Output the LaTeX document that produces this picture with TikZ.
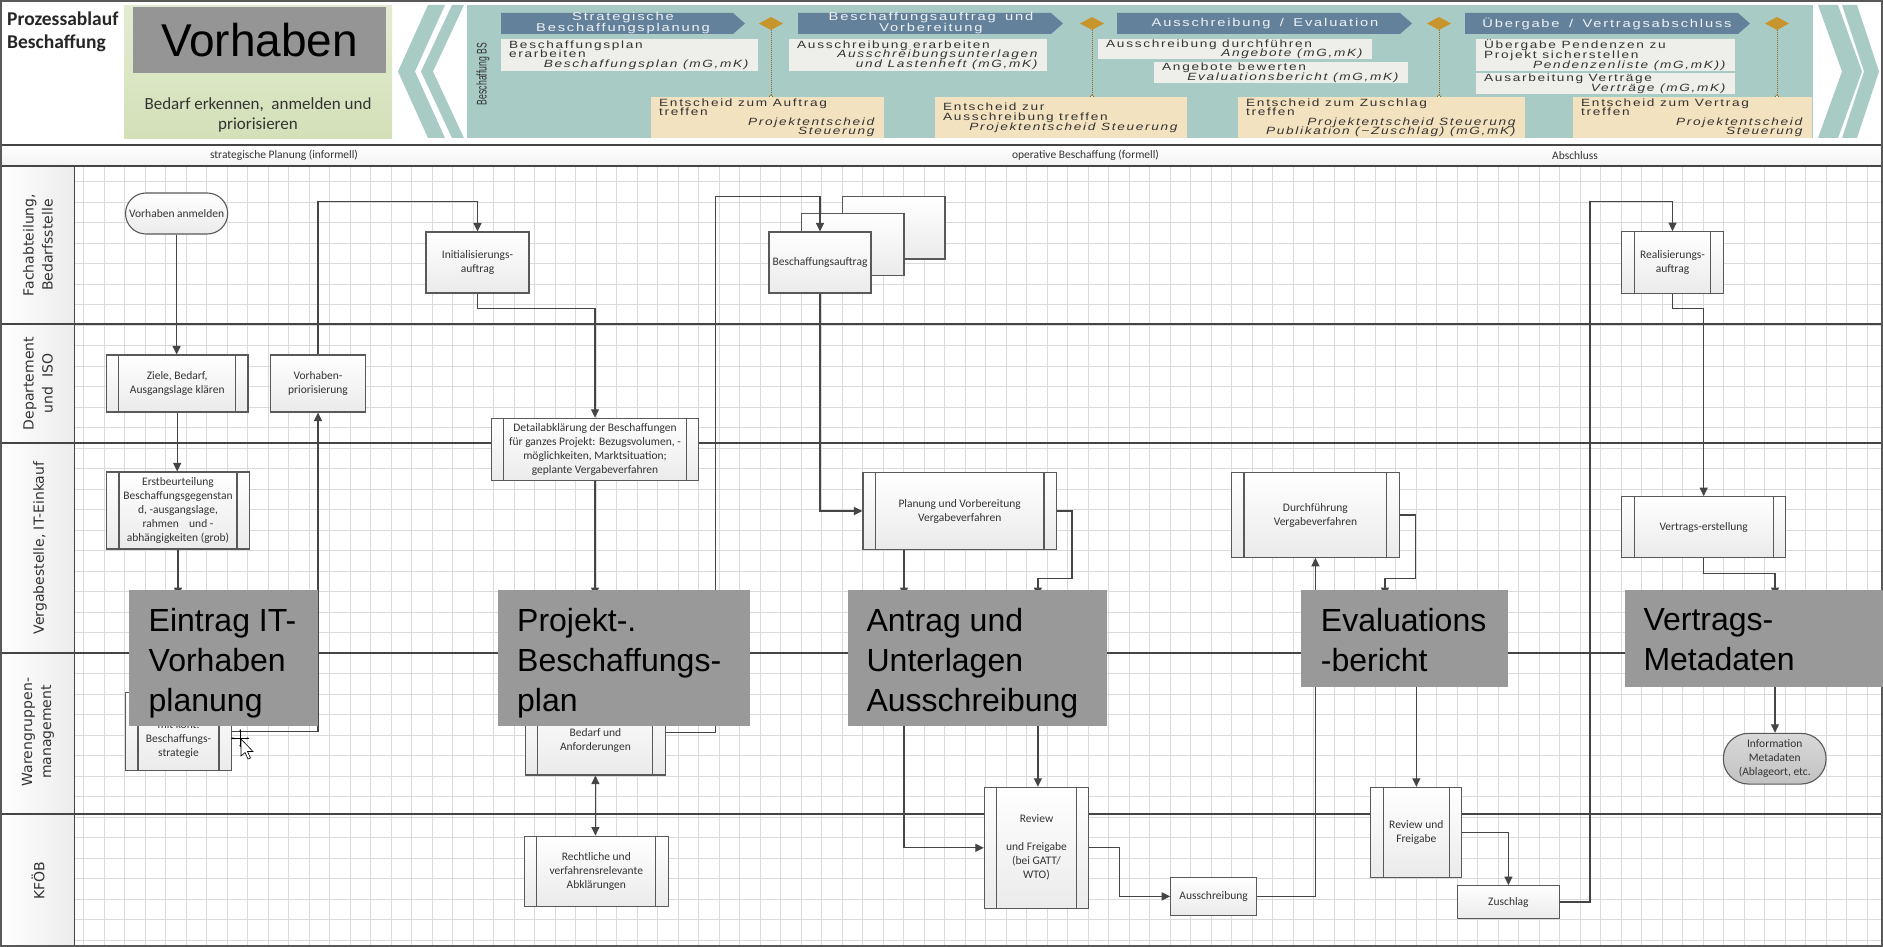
\documentclass[tikz,border=0pt]{standalone}
\usepackage{fontspec}
\setmainfont{Carlito}
\newfontfamily\hdr[FakeStretch=1.3,LetterSpace=16,WordSpace=1.6]{Liberation Sans}
\newfontfamily\arialf{Liberation Sans}
\newfontfamily\narrowf[FakeStretch=0.62]{Liberation Sans}
\newfontfamily\verd{DejaVu Sans}
\newcommand\tightls{\lineskiplimit=-20pt\relax}
\newcommand\hdrsmall{\hdr\fontsize{10.5}{9.6}\selectfont\tightls}
\newcommand\hdrph{\hdr\fontsize{11.3}{11}\selectfont\tightls}
\newcommand\widesp{\spaceskip=5.6pt plus 1pt\relax\xspaceskip=5.6pt\relax}
\usetikzlibrary{arrows.meta,calc}
\definecolor{edge}{HTML}{595959}
\definecolor{conn}{HTML}{454545}
\definecolor{txt}{HTML}{333333}
\definecolor{gridc}{HTML}{DADADA}
\definecolor{lanec}{HTML}{454545}
\definecolor{overg}{HTML}{999999}
\definecolor{vorg}{HTML}{959595}
\definecolor{greenA}{HTML}{E3ECD2}
\definecolor{greenB}{HTML}{D3E0B8}
\definecolor{tealc}{HTML}{A9CBC6}
\definecolor{phase}{HTML}{63819A}
\definecolor{phtxt}{HTML}{EEF2F6}
\definecolor{wbox}{HTML}{EEEEEA}
\definecolor{obox}{HTML}{F3E2BF}
\definecolor{dia}{HTML}{C8952C}
\begin{document}
\begin{tikzpicture}[x=1pt,y=-1pt,
  procbox/.style={draw=edge, line width=1.1pt, top color=white, bottom color=gray!16, align=center, inner sep=1pt, font=\fontsize{11.5}{14}\selectfont, text=txt},
  subbox/.style={procbox, path picture={\draw[edge,line width=1.1pt] ([xshift=12.5pt]path picture bounding box.north west) -- ([xshift=12.5pt]path picture bounding box.south west) ([xshift=-12.5pt]path picture bounding box.north east) -- ([xshift=-12.5pt]path picture bounding box.south east);}},
  btxt/.style={align=center, inner sep=0pt, font=\fontsize{11.5}{14}\selectfont, text=txt},
  arr/.style={draw=conn, line width=1.2pt, -{Triangle[length=8.5pt,width=8pt]}},
  arrb/.style={draw=conn, line width=1.2pt, {Triangle[length=8.5pt,width=8pt]}-{Triangle[length=8.5pt,width=8pt]}},
  ovl/.style={fill=overg, anchor=north west, inner sep=0pt},
  ovltxt/.style={anchor=north west, inner sep=0pt, align=left, font=\arialf\fontsize{32}{40}\selectfont, text=black},
  lanelab/.style={rotate=90, align=center, font=\verd\fontsize{14}{19}\selectfont, text=txt},
  hbx/.style={anchor=north west, inner xsep=8pt, inner ysep=0pt, align=left, font=\hdrsmall, text=txt, execute at begin node=\widesp},
  phtext/.style={align=center, inner sep=0pt, font=\hdrph, text=phtxt},
  bandtxt/.style={inner sep=0pt, font=\fontsize{11.5}{13}\selectfont, text=txt}
]
\useasboundingbox (0,0) rectangle (1883,947);
\fill[white] (0,0) rectangle (1883,947);

% label column and grid
\shade[left color=white, right color=gray!15] (1,166) rectangle (74.6,947);
\foreach \i in {0,...,87} \draw[gridc, line width=0.8pt] ({83.4+20.5*\i},166) -- ({83.4+20.5*\i},947);
\foreach \j in {0,...,37} \draw[gridc, line width=0.8pt] (74.6,{181.7+20.5*\j}) -- (1883,{181.7+20.5*\j});
\foreach \yy in {324,443,653,814} \draw[lanec, line width=1.5pt] (0,\yy) -- (1883,\yy);
\draw[lanec, line width=1.5pt] (74.6,166) -- (74.6,947);

% band
\shade[top color=white, bottom color=gray!10] (1,145) rectangle (1882,166);
\draw[lanec, line width=1.5pt] (0,145) -- (1883,145);
\draw[lanec, line width=1.5pt] (0,166) -- (1883,166);
\node[bandtxt] (band1) at (284,155.5) {strategische Planung (informell)};
\node[bandtxt] (band2) at (1085.5,155.5) {operative Beschaffung (formell)};
\node[bandtxt] (band3) at (1575,155.5) {Abschluss};

% lane labels
\node[lanelab] (l1) at (38,245) {Fachabteilung,\\Bedarfsstelle};
\node[lanelab] (l2) at (38,383.5) {Departement\\und\ \ ISO};
\node[lanelab] (l3) at (40,548) {Vergabestelle, IT-Einkauf};
\node[lanelab] (l4) at (38,732) {Warengruppen-\\management};
\node[lanelab] (l5) at (38,881) {KFÖB};

% ---------------- header ----------------
\node[anchor=north west, inner sep=0pt, align=left, font=\bfseries\fontsize{19.5}{23}\selectfont, text=black!85] (title) at (7,12) {Prozessablauf\\Beschaffung};
\node[anchor=north west, minimum width=268pt, minimum height=133pt, inner sep=0pt, top color=greenA, bottom color=greenB] (green) at (124,5) {};
\node[fill=vorg, minimum width=253pt, minimum height=66pt, inner sep=0pt, font=\arialf\fontsize{46}{50}\selectfont, text=black] (vorh) at (259.5,40) {Vorhaben};
\node[align=center, inner sep=0pt, font=\fontsize{17}{20}\selectfont, text=txt] (bedarfh) at (258,115) {Bedarf erkennen,\ \ anmelden und\\priorisieren};

% chevrons
\fill[tealc] (428,5) -- (445,5) -- (415,71.5) -- (445,138) -- (428,138) -- (398,71.5) -- cycle;
\fill[tealc] (452,5) -- (464,5) -- (433,71.5) -- (464,138) -- (452,138) -- (421,71.5) -- cycle;
\fill[tealc] (1818,5) -- (1838,5) -- (1862,71.5) -- (1838,138) -- (1818,138) -- (1842,71.5) -- cycle;
\fill[tealc] (1842,5) -- (1857,5) -- (1879,71.5) -- (1857,138) -- (1842,138) -- (1864,71.5) -- cycle;
% teal panel
\fill[tealc] (467,5) rectangle (1813,138);
\node[rotate=90, inner sep=0pt, font=\narrowf\fontsize{14}{14}\selectfont, text=txt] (bbs) at (483,74) {Beschaffung BS};

% phase arrows
\fill[phase] (501,13) -- (733,13) -- (745,23.5) -- (733,34) -- (501,34) -- cycle;
\fill[phase] (798,13) -- (1051,13) -- (1063,23.5) -- (1051,34) -- (798,34) -- cycle;
\fill[phase] (1117,13) -- (1400,13) -- (1412,23.5) -- (1400,34) -- (1117,34) -- cycle;
\fill[phase] (1465,13) -- (1738,13) -- (1750,23.5) -- (1738,34) -- (1465,34) -- cycle;
\node[phtext] (p1) at (623,23.5) {Strategische\\Beschaffungsplanung};
\node[phtext] (p2) at (931,23.5) {Beschaffungsauftrag und\\Vorbereitung};
\node[phtext] (p3) at (1265,23.5) {Ausschreibung / Evaluation};
\node[phtext] (p4) at (1607,23.5) {Übergabe / Vertragsabschluss};

% milestones
\foreach \dx in {771,1092,1439,1777} {
  \draw[dia!70!black, densely dotted, line width=1pt] (\dx,30) -- (\dx,95);
  \draw[dia!70!black, fill=wbox, line width=0.6pt] (\dx,96.5) circle (1.8);
  \fill[dia] (\dx,17) -- (\dx+12,23.5) -- (\dx,30) -- (\dx-12,23.5) -- cycle;
}

% header boxes
\node[hbx, fill=wbox, minimum width=257pt, minimum height=32pt, text width=241pt] (ha) at (501,39) {Beschaffungsplan\\erarbeiten\\\hspace*{\fill}\textit{Beschaffungsplan (mG,mK)}};
\node[hbx, fill=wbox, minimum width=258pt, minimum height=32pt, text width=242pt] (hb) at (789,39) {Ausschreibung erarbeiten\\\hspace*{\fill}\textit{Ausschreibungsunterlagen}\\\hspace*{\fill}\textit{und Lastenheft (mG,mK)}};
\node[hbx, fill=wbox, minimum width=274pt, minimum height=20pt, text width=258pt] (hc) at (1098,39) {Ausschreibung durchführen\\\hspace*{\fill}\textit{Angebote (mG,mK)}};
\node[hbx, fill=wbox, minimum width=254pt, minimum height=21pt, text width=238pt] (hd) at (1154,62) {Angebote bewerten\\\hspace*{\fill}\textit{Evaluationsbericht (mG,mK)}};
\node[hbx, fill=wbox, minimum width=259pt, minimum height=32pt, text width=243pt] (he) at (1476,39) {Übergabe Pendenzen zu\\Projekt sicherstellen\\\hspace*{\fill}\textit{Pendenzenliste (mG,mK))}};
\node[hbx, fill=wbox, minimum width=259pt, minimum height=21pt, text width=243pt] (hf) at (1476,73) {Ausarbeitung Verträge\\\hspace*{\fill}\textit{Verträge (mG,mK)}};
\node[hbx, fill=obox, minimum width=233pt, minimum height=41pt, text width=217pt] (hg) at (651,97) {Entscheid zum Auftrag\\treffen\\\hspace*{\fill}\textit{Projektentscheid}\\\hspace*{\fill}\textit{Steuerung}};
\node[hbx, fill=obox, minimum width=252pt, minimum height=41pt, text width=236pt] (hh) at (935,97) {Entscheid zur\\Ausschreibung treffen\\\hspace*{\fill}\textit{Projektentscheid Steuerung}};
\node[hbx, fill=obox, minimum width=287pt, minimum height=41pt, text width=271pt] (hi) at (1238,97) {Entscheid zum Zuschlag\\treffen\\\hspace*{\fill}\textit{Projektentscheid Steuerung}\\\hspace*{\fill}\textit{Publikation (\textasciitilde Zuschlag) (mG,mK)}};
\node[hbx, fill=obox, minimum width=239pt, minimum height=41pt, text width=223pt] (hj) at (1573,97) {Entscheid zum Vertrag\\treffen\\\hspace*{\fill}\textit{Projektentscheid}\\\hspace*{\fill}\textit{Steuerung}};

\draw[edge, line width=1.2pt] (1,1) rectangle (1882,946);

% ---------------- process boxes ----------------
\node[procbox, rounded corners=20.5pt, minimum width=102.2pt, minimum height=41pt] (anm) at (176.6,213.5) {Vorhaben anmelden};
\node[subbox, minimum width=141.6pt, minimum height=57pt] (ziele) at (177.2,383.5) {Ziele, Bedarf,\\Ausgangslage klären};
\node[procbox, minimum width=94.9pt, minimum height=57pt] (prio) at (318,383.5) {Vorhaben-\\priorisierung};
\node[procbox, minimum width=103pt, minimum height=61pt] (init) at (477.5,262.5) {Initialisierungs-\\auftrag};
\node[subbox, minimum width=143pt, minimum height=77pt] (erst) at (178,510.5) {Erstbeurteilung\\Beschaffungsgegenstan\\d, -ausgangslage,\\rahmen\ \ \ \ und -\\abhängigkeiten (grob)};
\node[subbox, minimum width=207.2pt, minimum height=61.7pt] (detail) at (595,449.2) {Detailabklärung der Beschaffungen\\für ganzes Projekt: Bezugsvolumen, -\\möglichkeiten, Marktsituation;\\geplante Vergabeverfahren};
\node[procbox, minimum width=102.5pt, minimum height=62.3pt] (bsback) at (893.75,227.85) {};
\node[procbox, minimum width=102.6pt, minimum height=62.4pt] (bsmid) at (852.7,244.5) {};
\node[procbox, minimum width=102pt, minimum height=61pt] (besch) at (820,262.5) {Beschaffungsauftrag};
\node[subbox, minimum width=193.5pt, minimum height=76.6pt] (planung) at (959.7,511) {Planung und Vorbereitung\\Vergabeverfahren};
\node[subbox, minimum width=106pt, minimum height=78pt] (strategie) at (178.5,731.7) {};
\node[btxt] (strategiet) at (178.5,739) {mit kont.\\Beschaffungs-\\strategie};
\node[subbox, minimum width=140pt, minimum height=85pt] (bedarf) at (595.4,732.5) {};
\node[btxt] (bedarft) at (595.4,740.3) {Bedarf und\\Anforderungen};
\node[subbox, minimum width=143.9pt, minimum height=70.7pt] (recht) at (596.3,871.4) {Rechtliche und\\verfahrensrelevante\\Abklärungen};
\node[subbox, minimum width=104.3pt, minimum height=121pt] (review1) at (1036.5,847.8) {Review\\[14pt]und Freigabe\\(bei GATT/\\WTO)};
\node[procbox, minimum width=85.7pt, minimum height=37.3pt] (ausschr) at (1213.6,896.4) {Ausschreibung};
\node[subbox, minimum width=167.9pt, minimum height=84.6pt] (durch) at (1315.4,515) {Durchführung\\Vergabeverfahren};
\node[subbox, minimum width=91.1pt, minimum height=90pt] (review2) at (1416.3,832.3) {Review und\\Freigabe};
\node[procbox, minimum width=101.8pt, minimum height=32.6pt] (zuschlag) at (1508.4,902) {Zuschlag};
\node[subbox, minimum width=101.6pt, minimum height=61.6pt] (real) at (1672.5,262.5) {Realisierungs-\\auftrag};
\node[subbox, minimum width=164pt, minimum height=60.6pt] (vertrag) at (1703.7,527) {Vertrags-erstellung};
\node[procbox, rounded corners=25pt, top color=gray!30, bottom color=gray!48, minimum width=102.7pt, minimum height=50.7pt] (info) at (1774.7,758.7) {Information\\Metadaten\\(Ablageort, etc.};

% ---------------- connectors ----------------
\coordinate (h1) at (178,596);
\coordinate (h2) at (595.5,596);
\coordinate (h3) at (1037.9,596);
\coordinate (h4) at (904,596);
\coordinate (h5) at (1385,596);
\coordinate (h6) at (1775,596);
\coordinate (s3) at (904,725);
\coordinate (s3b) at (1037.9,725);
\coordinate (s4) at (1416.4,686);
\coordinate (s5) at (1775,686);
\coordinate (w1) at (715.4,196.7);
\coordinate (w2) at (1590,201.7);

\draw[arr] (anm.south) -- (anm.south |- ziele.north);
\draw[arr] (ziele.south) -- (ziele.south |- erst.north);
\draw[arr] (erst.south) -- (erst.south |- h1);
\draw[arr] (strategie.east) -| (prio.south);
\draw[arr] (prio.north) -- ++(0,-153.3) -| (init.north);
\draw[arr] (init.south) -- ++(0,15.3) -| (detail.north);
\draw[arr] (detail.south) -- (detail.south |- h2);
\draw[arr] (bedarf.east) -| (w1) -- (w1 -| besch.north) -- (besch.north);
\draw[arrb] (bedarf.south) -- (bedarf.south |- recht.north);
\draw[arr] (besch.south) |- (planung.west);
\draw[arr] (planung.east) -- ++(15,0) -- ++(0,67.3) -| (h3);
\draw[arr] (planung.south -| h4) -- (h4);
\draw[arr] (s3) |- (review1.west);
\draw[arr] (s3b) -- (s3b |- review1.north);
\draw[arr] (review1.east) -- ++(30.4,0) |- (ausschr.west);
\draw[arr] (ausschr.east) -| (durch.south);
\draw[arr] (durch.east) -- ++(15.3,0) -- ++(0,63.3) -| (h5);
\draw[arr] (s4) -- (s4 |- review2.north);
\draw[arr] (review2.east) -| (zuschlag.north);
\draw[arr] (zuschlag.east) -| (w2) -| (real.north);
\draw[arr] (real.south) -- ++(0,15) -| (vertrag.north);
\draw[arr] (vertrag.south) -- ++(0,15.4) -| (h6);
\draw[arr] (s5) -- (s5 |- info.north);

% ---------------- overlays ----------------
\node[ovl, minimum width=188.6pt, minimum height=135.7pt] (o1) at (129,590) {};
\node[ovltxt] (o1t) at (148.5,608) {Eintrag IT-\\Vorhaben\\planung};
\node[ovl, minimum width=251.7pt, minimum height=135.7pt] (o2) at (497.9,590) {};
\node[ovltxt] (o2t) at (517,608) {Projekt-.\\Beschaffungs-\\plan};
\node[ovl, minimum width=259.5pt, minimum height=135.7pt] (o3) at (847.5,590) {};
\node[ovltxt] (o3t) at (866.4,608) {Antrag und\\Unterlagen\\Ausschreibung};
\node[ovl, minimum width=206.5pt, minimum height=96.7pt] (o4) at (1301,590) {};
\node[ovltxt] (o4t) at (1320.7,608) {Evaluations\\-bericht};
\node[ovl, minimum width=258pt, minimum height=96.7pt] (o5) at (1625,590) {};
\node[ovltxt] (o5t) at (1643.3,608) {Vertrags-\\Metadaten};

% cursor
\draw[black, line width=0.7pt, {Stealth[length=2.5pt]}-{Stealth[length=2.5pt]}] (231,738.3) -- (249.5,738.3);
\draw[black, line width=0.7pt, {Stealth[length=2.5pt]}-{Stealth[length=2.5pt]}] (240.3,729) -- (240.3,747.5);
\draw[black, fill=white, line width=0.6pt] (241,739) -- (241,756) -- (245,752.5) -- (248,759) -- (250.5,758) -- (247.5,751.5) -- (253,751.5) -- cycle;
\end{tikzpicture}
\end{document}
